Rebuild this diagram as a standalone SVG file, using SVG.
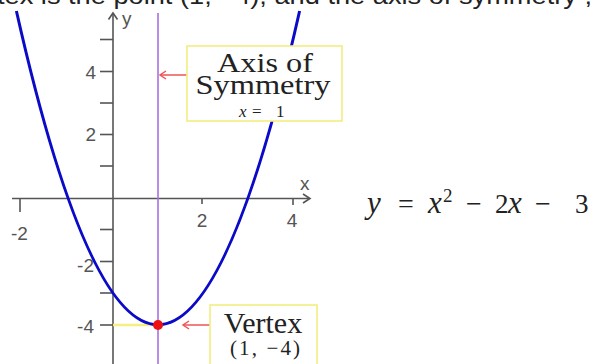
<svg xmlns="http://www.w3.org/2000/svg" width="593" height="364" viewBox="0 0 593 364">
<style>
.ax{stroke:#555;stroke-width:1.6;fill:none}
.tk{fill:#555;font-family:"Liberation Sans",Arial,sans-serif;font-size:19px}
.ser{font-family:"Liberation Serif","Times New Roman",serif;fill:#222}
.it{font-style:italic}
.box{fill:#fff;stroke:#f2ee80;stroke-width:1.6}
.rarrow{stroke:#ee5555;stroke-width:1.5;fill:none}
</style>
<rect x="0" y="0" width="593" height="364" fill="#fff"/>
<text x="-3" y="4" font-family="'Liberation Sans',Arial,sans-serif" font-size="24" fill="#222" textLength="595" lengthAdjust="spacingAndGlyphs">tex is the point (1, −4), and the axis of symmetry ,</text>
<g id="axes">
<line class="ax" x1="12" y1="198.5" x2="309" y2="198.5"/>
<polyline class="ax" points="303,194 310,198.5 303,203"/>
<line class="ax" x1="113" y1="13" x2="113" y2="364"/>
<polyline class="ax" points="108.5,19.5 113,13 117.5,19.5"/>
<line class="ax" x1="20" y1="198.5" x2="20" y2="212"/>
<line class="ax" x1="202" y1="198.5" x2="202" y2="204"/>
<line class="ax" x1="293" y1="198.5" x2="293" y2="205"/>
<line class="ax" x1="100" y1="39.5" x2="113" y2="39.5"/>
<line class="ax" x1="100" y1="71.5" x2="113" y2="71.5"/>
<line class="ax" x1="100" y1="103" x2="113" y2="103"/>
<line class="ax" x1="100" y1="134.5" x2="113" y2="134.5"/>
<line class="ax" x1="100" y1="166" x2="113" y2="166"/>
<line class="ax" x1="100" y1="229.5" x2="113" y2="229.5"/>
<line class="ax" x1="100" y1="261.5" x2="113" y2="261.5"/>
<line class="ax" x1="100" y1="293" x2="113" y2="293"/>
<line class="ax" x1="100" y1="325" x2="113" y2="325"/>
<text class="tk" x="122" y="25" font-size="20">y</text>
<text class="tk" x="300" y="190">x</text>
<text class="tk" x="11" y="240">-2</text>
<text class="tk" x="202" y="227" text-anchor="middle">2</text>
<text class="tk" x="292" y="227" text-anchor="middle">4</text>
<text class="tk" x="96" y="79" text-anchor="end">4</text>
<text class="tk" x="96" y="141" text-anchor="end">2</text>
<text class="tk" x="94" y="272" text-anchor="end">-2</text>
<text class="tk" x="94" y="333" text-anchor="end">-4</text>
</g>
<g id="symmetry-line">
<line x1="158" y1="13" x2="158" y2="364" stroke="#a870e0" stroke-width="1.6"/>
</g>
<g id="parabola">
<line x1="113" y1="325" x2="158" y2="325" stroke="#f4f080" stroke-width="2.5"/>
<path d="M16.4,11 Q158,638.5 299.6,11" fill="none" stroke="#0a0ac8" stroke-width="3"/>
<circle cx="158" cy="325" r="5" fill="#ee1111"/>
</g>
<g id="connectors">
<line class="rarrow" x1="160" y1="75" x2="187" y2="75"/>
<polyline class="rarrow" points="166,71 160,75 166,79"/>
<line class="rarrow" x1="183" y1="325" x2="210" y2="325"/>
<polyline class="rarrow" points="189,321 183,325 189,329"/>
</g>
<g id="axis-label">
<rect class="box" x="187" y="46" width="155" height="75"/>
<text class="ser" x="265" y="72" font-size="27" text-anchor="middle" textLength="96" lengthAdjust="spacingAndGlyphs">Axis of</text>
<text class="ser" x="263" y="94" font-size="27" text-anchor="middle" textLength="135" lengthAdjust="spacingAndGlyphs">Symmetry</text>
<text class="ser it" x="239" y="117" font-size="17">x</text>
<text class="ser" x="252" y="117" font-size="17">=</text>
<text class="ser" x="276" y="117" font-size="17">1</text>
</g>
<g id="vertex-label">
<rect class="box" x="210" y="305" width="107" height="62"/>
<text class="ser" x="263" y="333" font-size="30" text-anchor="middle">Vertex</text>
<text class="ser" x="265" y="355" font-size="21" text-anchor="middle" textLength="70" lengthAdjust="spacing">(1, −4)</text>
</g>
<g id="equation" class="ser" font-size="28">
<text x="367" y="213" class="it" font-size="31">y</text>
<text x="398" y="213">=</text>
<text x="428" y="213" class="it" font-size="31">x</text>
<text x="443" y="202" font-size="19">2</text>
<text x="466" y="213">−</text>
<text x="495" y="213" font-size="27">2</text>
<text x="508" y="213" class="it" font-size="31">x</text>
<text x="535" y="213">−</text>
<text x="575" y="213" font-size="27">3</text>
</g>
</svg>
